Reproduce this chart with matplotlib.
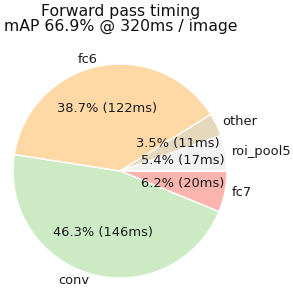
import matplotlib
matplotlib.use("Agg")
import matplotlib.pyplot as plt

labels = ["fc7", "conv", "fc6", "other", "roi_pool5"]
times_ms = [19.6, 146.1, 122.1, 11.0, 17.0]
colors = ["#fbb4ae", "#ccebc5", "#fed9a6", "#e5d8bd", "#f2f2f2"]
title = "Forward pass timing\nmAP 66.9% @ 320ms / image"

total = sum(times_ms)

fig = plt.figure(figsize=(2.93, 2.97), dpi=100)
ax = fig.add_axes([13 / 293, 19 / 297, 214 / 293, 214 / 297])

ax.pie(times_ms, labels=labels, colors=colors, startangle=0, counterclock=False,
       autopct=lambda p: "%.1f%% (%.0fms)" % (p, p * total / 100.0),
       pctdistance=0.6, labeldistance=1.06,
       wedgeprops=dict(edgecolor="white", linewidth=1),
       textprops=dict(fontsize=9.4, color="#1a1a1a"))
ax.set_xlim(-1, 1)
ax.set_ylim(-1, 1)
ax.set_aspect("equal")

fig.text(121 / 293, 1 - 4 / 297, title, ha="center", va="top", fontsize=11.3,
         color="#111111", linespacing=1.0)

fig.savefig("out.png", dpi=100)
